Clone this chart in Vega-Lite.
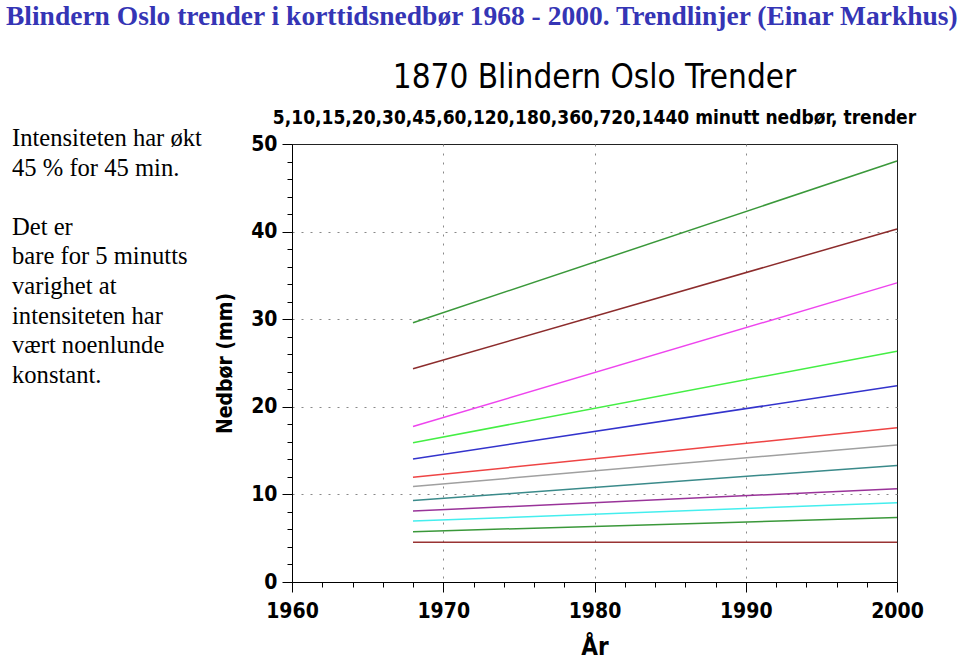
{
  "$schema": "https://vega.github.io/schema/vega-lite/v6.json",
  "background": "white",
  "padding": {"left": 6, "top": 3, "right": 0, "bottom": 0},
  "bounds": "flush",
  "title": {
    "text": "Blindern Oslo trender i korttidsnedbør 1968 - 2000. Trendlinjer (Einar Markhus)",
    "anchor": "start",
    "font": "Liberation Serif",
    "fontSize": 27.5,
    "fontWeight": "bold",
    "color": "#3535b5",
    "offset": 31
  },
  "spacing": 86,
  "hconcat": [
    {
      "width": 200,
      "height": 438,
      "view": {"stroke": null},
      "data": {"values": [
        {"line": 0, "col": 0, "txt": "Intensiteten har økt"},
        {"line": 1, "col": 0, "txt": "45 % for 45 min."},
        {"line": 3, "col": 0, "txt": "Det er"},
        {"line": 4, "col": 0, "txt": "bare for 5 minutts"},
        {"line": 5, "col": 0, "txt": "varighet at"},
        {"line": 6, "col": 0, "txt": "intensiteten har"},
        {"line": 7, "col": 0, "txt": "vært noenlunde"},
        {"line": 8, "col": 0, "txt": "konstant."}
      ]},
      "mark": {"type": "text", "align": "left", "baseline": "alphabetic", "dx": 6, "font": "Liberation Serif", "fontSize": 24.6, "color": "#000"},
      "encoding": {
        "x": {"field": "col", "type": "quantitative", "scale": {"domain": [0, 1]}, "axis": null},
        "y": {"field": "line", "type": "quantitative", "scale": {"domain": [-0.0676, 14.73], "reverse": true, "nice": false, "zero": false}, "axis": null},
        "text": {"field": "txt", "type": "nominal"}
      }
    },
    {
      "width": 605,
      "height": 438,
      "view": {"stroke": "#222", "strokeWidth": 1},
      "title": {
        "text": "1870 Blindern Oslo Trender",
        "subtitle": "5,10,15,20,30,45,60,120,180,360,720,1440 minutt nedbør, trender",
        "anchor": "middle",
        "font": "DejaVu Sans Condensed",
        "fontSize": 33,
        "fontWeight": "normal",
        "color": "#000",
        "subtitleFont": "DejaVu Sans Condensed",
        "subtitleFontSize": 19,
        "subtitleFontWeight": "bold",
        "subtitleColor": "#000",
        "subtitlePadding": 14,
        "offset": 5
      },
      "data": {"values": [
        {"dur": "5", "year": 1968, "mm": 4.55}, {"dur": "5", "year": 2000, "mm": 4.55},
        {"dur": "10", "year": 1968, "mm": 5.75}, {"dur": "10", "year": 2000, "mm": 7.35},
        {"dur": "15", "year": 1968, "mm": 6.95}, {"dur": "15", "year": 2000, "mm": 9.05},
        {"dur": "20", "year": 1968, "mm": 8.1}, {"dur": "20", "year": 2000, "mm": 10.65},
        {"dur": "30", "year": 1968, "mm": 9.3}, {"dur": "30", "year": 2000, "mm": 13.3},
        {"dur": "45", "year": 1968, "mm": 10.9}, {"dur": "45", "year": 2000, "mm": 15.65},
        {"dur": "60", "year": 1968, "mm": 11.95}, {"dur": "60", "year": 2000, "mm": 17.6},
        {"dur": "120", "year": 1968, "mm": 14.05}, {"dur": "120", "year": 2000, "mm": 22.4},
        {"dur": "180", "year": 1968, "mm": 15.9}, {"dur": "180", "year": 2000, "mm": 26.35},
        {"dur": "360", "year": 1968, "mm": 17.75}, {"dur": "360", "year": 2000, "mm": 34.15},
        {"dur": "720", "year": 1968, "mm": 24.35}, {"dur": "720", "year": 2000, "mm": 40.3},
        {"dur": "1440", "year": 1968, "mm": 29.6}, {"dur": "1440", "year": 2000, "mm": 48.05}
      ]},
      "mark": {"type": "line", "strokeWidth": 1.5},
      "encoding": {
        "x": {
          "field": "year", "type": "quantitative",
          "scale": {"domain": [1960, 2000], "nice": false, "zero": false},
          "axis": {
            "values": [1960,1962,1964,1966,1968,1970,1972,1974,1976,1978,1980,1982,1984,1986,1988,1990,1992,1994,1996,1998,2000],
            "labelExpr": "datum.value % 10 === 0 ? datum.label : ''",
            "format": "d",
            "labelOverlap": false,
            "labelFlush": false,
            "tickSize": {"condition": {"test": "datum.value % 10 === 0", "value": 10}, "value": 5},
            "tickColor": "#000",
            "domainColor": "#000",
            "grid": true,
            "gridColor": "#888",
            "gridDash": [2, 7],
            "gridOpacity": {"condition": {"test": "datum.value % 10 === 0 && datum.value > 1960 && datum.value < 2000", "value": 1}, "value": 0},
            "labelFont": "DejaVu Sans Condensed",
            "labelFontSize": 21,
            "labelFontWeight": "bold",
            "labelColor": "#000",
            "labelPadding": 8,
            "title": "År",
            "titleFont": "DejaVu Sans Condensed",
            "titleFontSize": 24,
            "titleFontWeight": "bold",
            "titleColor": "#000",
            "titlePadding": 14
          }
        },
        "y": {
          "field": "mm", "type": "quantitative",
          "scale": {"domain": [0, 50], "nice": false},
          "axis": {
            "values": [0,2,4,6,8,10,12,14,16,18,20,22,24,26,28,30,32,34,36,38,40,42,44,46,48,50],
            "labelExpr": "datum.value % 10 === 0 ? datum.label : ''",
            "labelOverlap": false,
            "labelFlush": false,
            "tickSize": {"condition": {"test": "datum.value % 10 === 0", "value": 10}, "value": 5},
            "tickColor": "#000",
            "domainColor": "#000",
            "grid": true,
            "gridColor": "#888",
            "gridDash": [2, 7],
            "gridOpacity": {"condition": {"test": "datum.value % 10 === 0 && datum.value > 0 && datum.value < 50", "value": 1}, "value": 0},
            "labelFont": "DejaVu Sans Condensed",
            "labelFontSize": 21,
            "labelFontWeight": "bold",
            "labelColor": "#000",
            "labelPadding": 5,
            "title": "Nedbør (mm)",
            "titleFont": "DejaVu Sans Condensed",
            "titleFontSize": 21,
            "titleFontWeight": "bold",
            "titleColor": "#000",
            "titlePadding": 15
          }
        },
        "color": {
          "field": "dur", "type": "nominal",
          "scale": {
            "domain": ["5","10","15","20","30","45","60","120","180","360","720","1440"],
            "range": ["#993333","#3a983a","#44eeee","#993399","#3a8a8a","#a0a0a0","#ee4444","#3333cc","#44ee44","#ee44ee","#8c2c2c","#3a983a"]
          },
          "legend": null
        }
      }
    }
  ]
}
